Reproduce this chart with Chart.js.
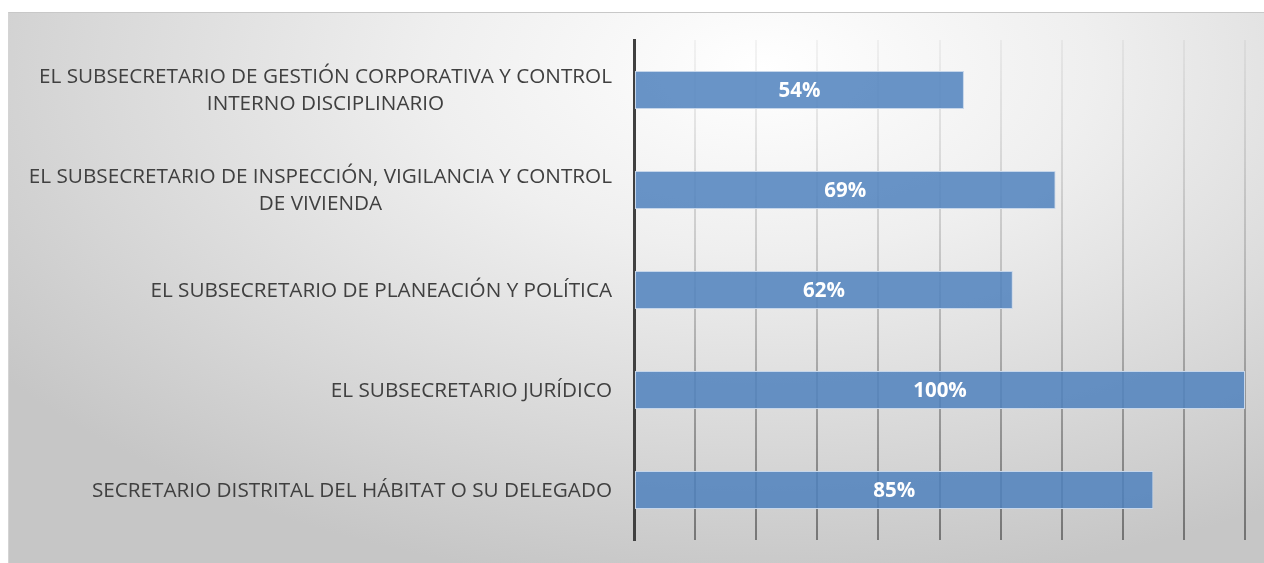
<!DOCTYPE html>
<html>
<head>
<meta charset="utf-8">
<script src="https://cdn.jsdelivr.net/npm/chart.js@4"></script>
<style>
    html, body {
        margin: 0;
        padding: 0;
        background: #ffffff;
    }

    #frame {
        position: absolute;
        left: 8px;
        top: 12px;
        width: 1256px;
        height: 551px;
        box-sizing: border-box;
        border-top: 1px solid #c8c8c8;
        border-left: 1px solid #d4d4d4;
        background: radial-gradient(ellipse 75% 95% at 60% 10%, #ffffff 0%, #efefef 35%, #d8d8d8 72%, #c6c6c6 100%);
    }

    #chart {
        position: absolute;
        left: -1px;
        top: -1px;
    }
</style>
</head>
<body>
<div id="frame">
    <canvas id="chart" width="1256" height="551"></canvas>
</div>
<script>
    const categories = [
        ["EL SUBSECRETARIO DE GESTIÓN CORPORATIVA Y CONTROL", "INTERNO DISCIPLINARIO"],
        ["EL SUBSECRETARIO DE INSPECCIÓN, VIGILANCIA Y CONTROL", "DE VIVIENDA"],
        ["EL SUBSECRETARIO DE PLANEACIÓN Y POLÍTICA"],
        ["EL SUBSECRETARIO JURÍDICO"],
        ["SECRETARIO DISTRITAL DEL HÁBITAT O SU DELEGADO"],
    ];

    const values = [0.54, 0.69, 0.62, 1.0, 0.85];

    const valueLabels = ["54%", "69%", "62%", "100%", "85%"];

    const LABEL_FONT = "20.7px 'Open Sans'";
    const LINE_HEIGHT = 27;

    // category labels: block right aligned to the axis, lines centred inside the block
    const categoryLabels = {
        id: "categoryLabels",
        afterDraw(chart) {
            const ctx = chart.ctx;
            const yScale = chart.scales.y;
            const right = yScale.right - 22;

            ctx.save();
            ctx.fillStyle = "#404040";
            ctx.font = LABEL_FONT;
            ctx.textAlign = "center";
            ctx.textBaseline = "middle";

            categories.forEach((lines, i) => {
                const cy = yScale.getPixelForTick(i) + 1;
                const widest = Math.max(...lines.map((l) => ctx.measureText(l).width));
                const cx = right - widest / 2;
                const top = cy - ((lines.length - 1) * LINE_HEIGHT) / 2;

                lines.forEach((line, j) => {
                    ctx.fillText(line, cx, top + j * LINE_HEIGHT);
                });
            });

            ctx.restore();
        },
    };

    // white percentage text centred in each bar
    const barLabels = {
        id: "barLabels",
        afterDatasetsDraw(chart) {
            const ctx = chart.ctx;
            const meta = chart.getDatasetMeta(0);

            ctx.save();
            ctx.fillStyle = "#ffffff";
            ctx.font = "bold 20.5px 'Open Sans'";
            ctx.textAlign = "center";
            ctx.textBaseline = "middle";

            meta.data.forEach((bar, i) => {
                const cx = (bar.x + bar.base) / 2;
                ctx.fillText(valueLabels[i], cx, bar.y + 1);
            });

            ctx.restore();
        },
    };

    function gridColor(context) {
        const area = context.chart.chartArea;

        if (!area) {
            return "rgba(0,0,0,0.25)";
        }

        const g = context.chart.ctx.createLinearGradient(0, area.top, 0, area.bottom);
        g.addColorStop(0, "rgba(0,0,0,0.04)");
        g.addColorStop(0.5, "rgba(0,0,0,0.18)");
        g.addColorStop(1, "rgba(0,0,0,0.42)");
        return g;
    }

    new Chart(document.getElementById("chart").getContext("2d"), {
        type: "bar",

        data: {
            labels: categories.map((c) => c.join(" ")),

            datasets: [
                {
                    data: values,

                    backgroundColor: "rgba(79, 129, 189, 0.85)",

                    borderColor: "#c6d6ea",

                    borderWidth: 1,

                    borderSkipped: false,

                    barPercentage: 0.38,

                    categoryPercentage: 1,
                },
            ],
        },

        options: {
            indexAxis: "y",
            responsive: false,
            animation: false,

            layout: {
                padding: {
                    top: 28,
                    bottom: 23,
                    right: 19,
                    left: 0,
                },
            },

            scales: {
                x: {
                    min: 0,
                    max: 1,

                    ticks: {
                        display: false,
                        stepSize: 0.1,
                    },

                    grid: {
                        color: gridColor,
                        lineWidth: 2,
                        drawTicks: false,
                    },

                    border: {
                        display: false,
                    },
                },

                y: {
                    afterFit(scale) {
                        scale.width = 626;
                    },

                    ticks: {
                        display: false,
                    },

                    grid: {
                        display: false,
                        drawTicks: false,
                    },

                    border: {
                        display: true,
                        color: "#404040",
                        width: 3,
                    },
                },
            },

            plugins: {
                legend: {
                    display: false,
                },

                tooltip: {
                    enabled: false,
                },
            },
        },

        plugins: [categoryLabels, barLabels],
    });
</script>
</body>
</html>
